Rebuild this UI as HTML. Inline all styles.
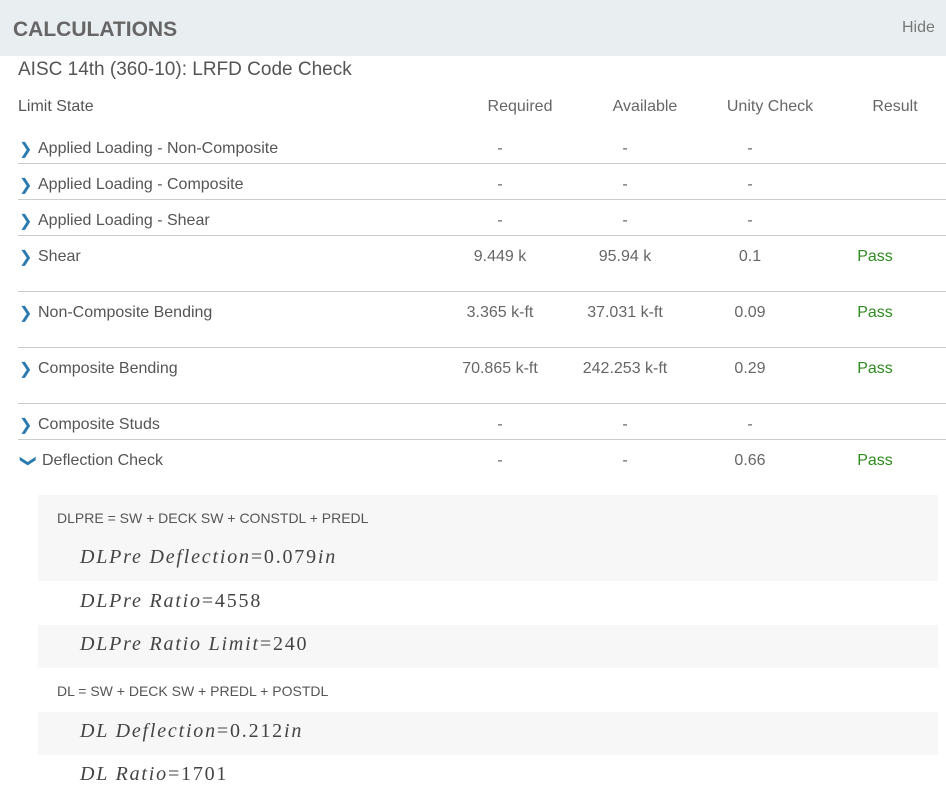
<!DOCTYPE html>
<html><head><style>
body{margin:0;width:946px;height:795px;overflow:hidden;background:#fff;font-family:"Liberation Sans",sans-serif;color:#555;position:relative}
.a{position:absolute;white-space:nowrap}
.hd{position:absolute;left:0;top:0;width:946px;height:56px;background:#e9eef1}
.ln{position:absolute;left:18px;width:928px;height:1px;background:#ccc}
.c{position:absolute;width:120px;text-align:center;font-size:16px;color:#666}
.g{position:absolute;left:38px;width:900px;background:#f7f7f7}
.m{position:absolute;left:80px;font-family:"Liberation Serif",serif;font-size:20px;color:#444;letter-spacing:1.8px;white-space:nowrap}
.m i{font-style:italic}
.p{color:#2e8b1e}
.chev{position:absolute;color:#2a7ab0;font-size:16px}
</style></head><body>
<div class="hd"></div>
<div class="a" style="left:13px;top:18px;font-size:21px;font-weight:bold;color:#666">CALCULATIONS</div>
<div class="a" style="left:902px;top:19px;font-size:16px;color:#777">Hide</div>
<div class="a" style="left:18px;top:59px;font-size:19px;color:#555">AISC 14th (360-10): LRFD Code Check</div>
<div class="a" style="left:18px;top:98px;font-size:16px">Limit State</div>
<div class="c" style="left:460px;top:98px">Required</div>
<div class="c" style="left:585px;top:98px">Available</div>
<div class="c" style="left:710px;top:98px">Unity Check</div>
<div class="c" style="left:835px;top:98px">Result</div>

<div class="ln" style="top:163px"></div><div class="ln" style="top:199px"></div><div class="ln" style="top:235px"></div><div class="ln" style="top:291px"></div><div class="ln" style="top:347px"></div><div class="ln" style="top:403px"></div><div class="ln" style="top:439px"></div>

<div class="chev" style="left:19px;top:139px">&#x276F;</div><div class="a" style="left:38px;top:140px;font-size:16px">Applied Loading - Non-Composite</div>
<div class="c" style="left:440px;top:140px">-</div><div class="c" style="left:565px;top:140px">-</div><div class="c" style="left:690px;top:140px">-</div>
<div class="chev" style="left:19px;top:175px">&#x276F;</div><div class="a" style="left:38px;top:176px;font-size:16px">Applied Loading - Composite</div>
<div class="c" style="left:440px;top:176px">-</div><div class="c" style="left:565px;top:176px">-</div><div class="c" style="left:690px;top:176px">-</div>
<div class="chev" style="left:19px;top:211px">&#x276F;</div><div class="a" style="left:38px;top:212px;font-size:16px">Applied Loading - Shear</div>
<div class="c" style="left:440px;top:212px">-</div><div class="c" style="left:565px;top:212px">-</div><div class="c" style="left:690px;top:212px">-</div>
<div class="chev" style="left:19px;top:247px">&#x276F;</div><div class="a" style="left:38px;top:248px;font-size:16px">Shear</div>
<div class="c" style="left:440px;top:248px">9.449 k</div><div class="c" style="left:565px;top:248px">95.94 k</div><div class="c" style="left:690px;top:248px">0.1</div><div class="c p" style="left:815px;top:248px">Pass</div>
<div class="chev" style="left:19px;top:303px">&#x276F;</div><div class="a" style="left:38px;top:304px;font-size:16px">Non-Composite Bending</div>
<div class="c" style="left:440px;top:304px">3.365 k-ft</div><div class="c" style="left:565px;top:304px">37.031 k-ft</div><div class="c" style="left:690px;top:304px">0.09</div><div class="c p" style="left:815px;top:304px">Pass</div>
<div class="chev" style="left:19px;top:359px">&#x276F;</div><div class="a" style="left:38px;top:360px;font-size:16px">Composite Bending</div>
<div class="c" style="left:440px;top:360px">70.865 k-ft</div><div class="c" style="left:565px;top:360px">242.253 k-ft</div><div class="c" style="left:690px;top:360px">0.29</div><div class="c p" style="left:815px;top:360px">Pass</div>
<div class="chev" style="left:19px;top:415px">&#x276F;</div><div class="a" style="left:38px;top:416px;font-size:16px">Composite Studs</div>
<div class="c" style="left:440px;top:416px">-</div><div class="c" style="left:565px;top:416px">-</div><div class="c" style="left:690px;top:416px">-</div>
<div class="chev" style="left:22px;top:451px;transform:rotate(90deg)">&#x276F;</div><div class="a" style="left:42px;top:452px;font-size:16px">Deflection Check</div>
<div class="c" style="left:440px;top:452px">-</div><div class="c" style="left:565px;top:452px">-</div><div class="c" style="left:690px;top:452px">0.66</div><div class="c p" style="left:815px;top:452px">Pass</div>

<div class="g" style="top:495px;height:86px"></div>
<div class="g" style="top:625px;height:43px"></div>
<div class="g" style="top:712px;height:43px"></div>
<div class="a" style="left:57px;top:510px;font-size:14px">DLPRE = SW + DECK SW + CONSTDL + PREDL</div>
<div class="m" style="top:546px"><i>DLPre Deflection</i>=0.079<i>in</i></div>
<div class="m" style="top:590px"><i>DLPre Ratio</i>=4558</div>
<div class="m" style="top:633px"><i>DLPre Ratio Limit</i>=240</div>
<div class="a" style="left:57px;top:683px;font-size:14px">DL = SW + DECK SW + PREDL + POSTDL</div>
<div class="m" style="top:720px"><i>DL Deflection</i>=0.212<i>in</i></div>
<div class="m" style="top:763px"><i>DL Ratio</i>=1701</div>
</body></html>
